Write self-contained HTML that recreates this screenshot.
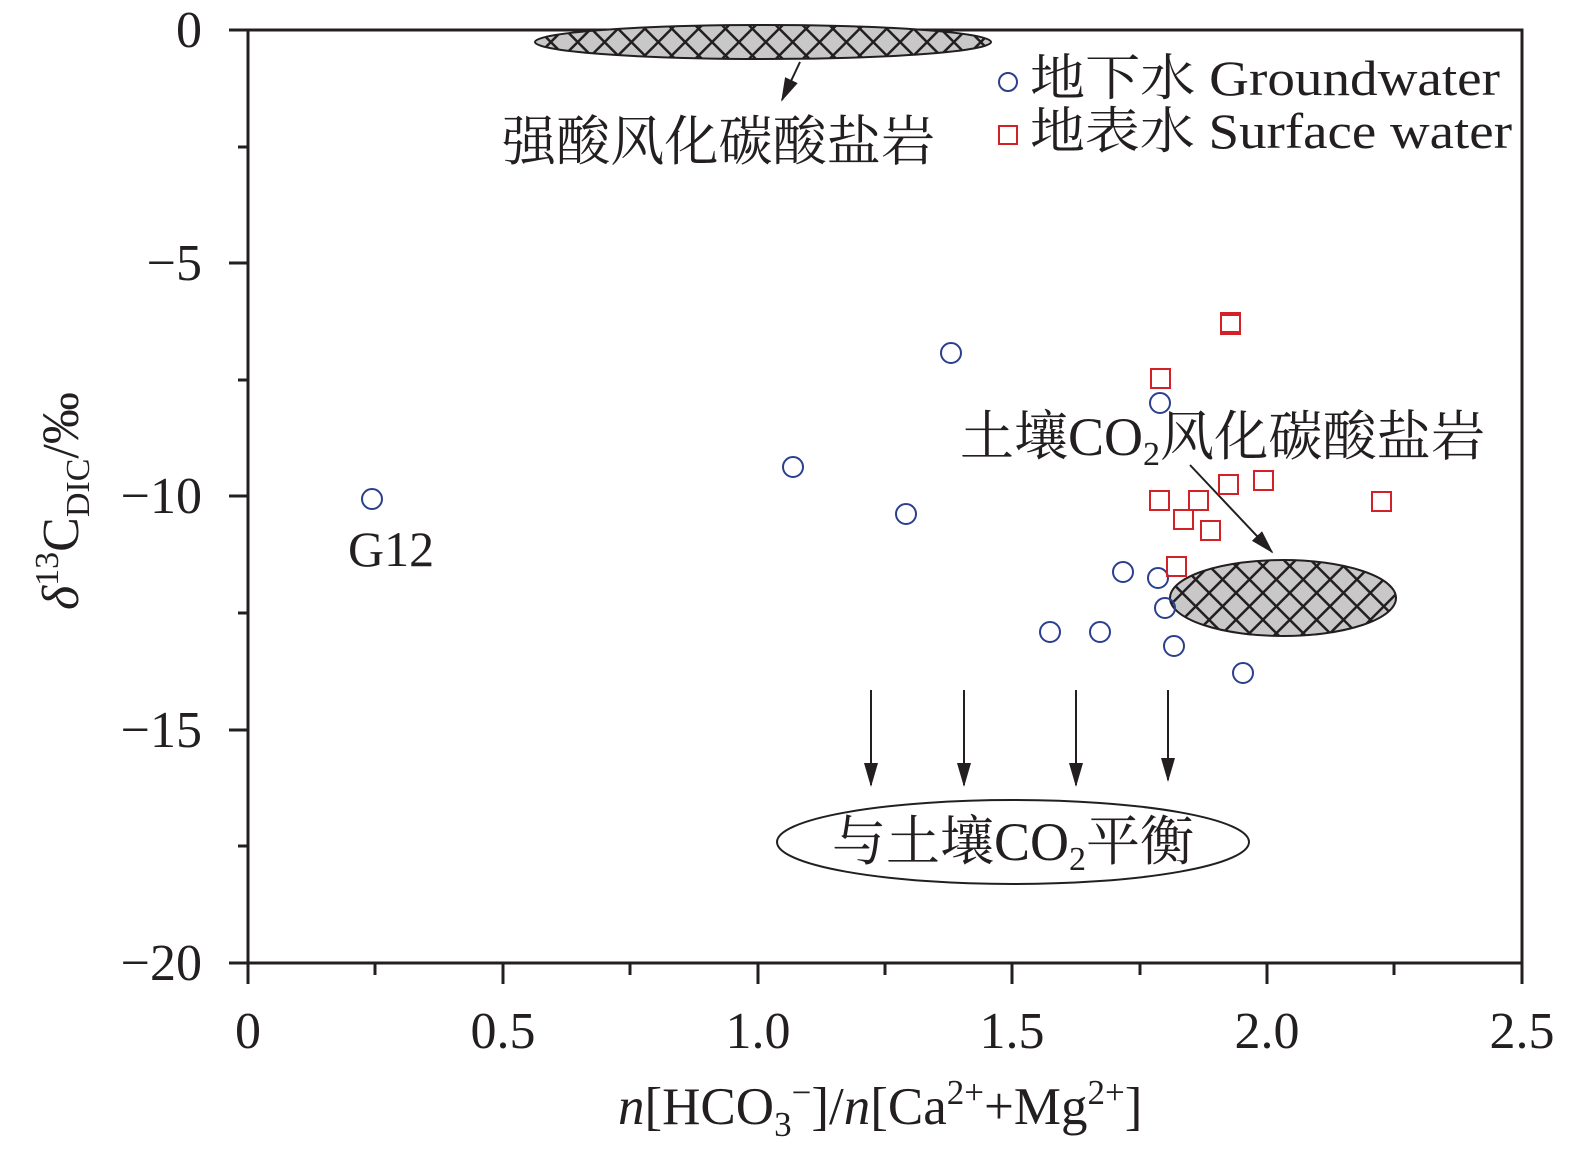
<!DOCTYPE html>
<html><head><meta charset="utf-8"><style>
html,body{margin:0;padding:0;background:#fff;}
svg{display:block;}
text{font-family:"Liberation Serif","Noto Serif CJK SC",serif;fill:#231f20;}
</style></head><body>
<svg width="1575" height="1155" viewBox="0 0 1575 1155" xmlns="http://www.w3.org/2000/svg">
<defs>
<pattern id="h" width="19" height="19" patternUnits="userSpaceOnUse" patternTransform="rotate(45)">
<rect width="19" height="19" fill="#c8c8c8"/>
<line x1="0" y1="0" x2="19" y2="0" stroke="#231f20" stroke-width="5"/>
<line x1="0" y1="0" x2="0" y2="19" stroke="#231f20" stroke-width="5"/>
</pattern>
<marker id="ar2" markerWidth="24" markerHeight="14" refX="22" refY="7" orient="auto" markerUnits="userSpaceOnUse">
<path d="M0,0 L24,7 L0,14 Z" fill="#231f20"/></marker>
</defs>
<rect x="248" y="30" width="1274" height="933" fill="none" stroke="#231f20" stroke-width="3"/>
<g stroke="#231f20" stroke-width="3">
<line x1="248" y1="963" x2="248" y2="984"/><line x1="503" y1="963" x2="503" y2="984"/>
<line x1="758" y1="963" x2="758" y2="984"/><line x1="1012" y1="963" x2="1012" y2="984"/>
<line x1="1267" y1="963" x2="1267" y2="984"/><line x1="1522" y1="963" x2="1522" y2="984"/>
<line x1="375" y1="963" x2="375" y2="975"/><line x1="630" y1="963" x2="630" y2="975"/>
<line x1="885" y1="963" x2="885" y2="975"/><line x1="1140" y1="963" x2="1140" y2="975"/>
<line x1="1394" y1="963" x2="1394" y2="975"/>
<line x1="229" y1="30" x2="248" y2="30"/><line x1="229" y1="263" x2="248" y2="263"/>
<line x1="229" y1="496" x2="248" y2="496"/><line x1="229" y1="730" x2="248" y2="730"/>
<line x1="229" y1="963" x2="248" y2="963"/>
<line x1="238" y1="147" x2="248" y2="147"/><line x1="238" y1="380" x2="248" y2="380"/>
<line x1="238" y1="613" x2="248" y2="613"/><line x1="238" y1="846" x2="248" y2="846"/>
</g>
<g font-size="52" text-anchor="middle">
<text x="248" y="1048">0</text><text x="503" y="1048">0.5</text><text x="758" y="1048">1.0</text>
<text x="1012" y="1048">1.5</text><text x="1267" y="1048">2.0</text><text x="1522" y="1048">2.5</text>
</g>
<g font-size="52" text-anchor="end">
<text x="202" y="47">0</text><text x="202" y="280">−5</text><text x="202" y="513">−10</text>
<text x="202" y="747">−15</text><text x="202" y="980">−20</text>
</g>
<text x="618" y="1124" font-size="53"><tspan font-style="italic">n</tspan>[HCO<tspan font-size="35" dy="12">3</tspan><tspan font-size="35" dy="-32">−</tspan><tspan dy="20">]/</tspan><tspan font-style="italic">n</tspan>[Ca<tspan font-size="35" dy="-20">2+</tspan><tspan dy="20">+Mg</tspan><tspan font-size="35" dy="-20">2+</tspan><tspan dy="20">]</tspan></text>
<text transform="translate(78,610) rotate(-90)" font-size="52"><tspan font-style="italic">δ</tspan><tspan font-size="34" dy="-20">13</tspan><tspan dy="20">C</tspan><tspan font-size="34" dy="11">DIC</tspan><tspan dy="-11">/‰</tspan></text>
<ellipse cx="763" cy="42" rx="228" ry="17" fill="url(#h)" stroke="#231f20" stroke-width="2"/>
<ellipse cx="1283" cy="598" rx="113" ry="38" fill="url(#h)" stroke="#231f20" stroke-width="2"/>
<ellipse cx="1013" cy="842" rx="236" ry="42" fill="#fff" stroke="#231f20" stroke-width="2"/>
<g stroke="#231f20" stroke-width="2">
<line x1="800" y1="62" x2="782" y2="100" marker-end="url(#ar2)"/>
<line x1="1190" y1="465" x2="1272" y2="552" marker-end="url(#ar2)"/>
<line x1="871" y1="690" x2="871" y2="785" marker-end="url(#ar2)"/>
<line x1="964" y1="690" x2="964" y2="785" marker-end="url(#ar2)"/>
<line x1="1076" y1="690" x2="1076" y2="785" marker-end="url(#ar2)"/>
<line x1="1168" y1="690" x2="1168" y2="780" marker-end="url(#ar2)"/>
</g>
<text x="502" y="160" font-size="54" textLength="433" lengthAdjust="spacingAndGlyphs">强酸风化碳酸盐岩</text>
<text x="960" y="455" font-size="54">土壤CO<tspan font-size="34" dy="10">2</tspan><tspan dy="-10" textLength="325" lengthAdjust="spacingAndGlyphs">风化碳酸盐岩</tspan></text>
<text x="832" y="860" font-size="54">与土壤CO<tspan font-size="34" dy="10">2</tspan><tspan dy="-10">平衡</tspan></text>
<text x="348" y="566" font-size="50">G12</text>
<text x="1030" y="95" font-size="50" textLength="470" lengthAdjust="spacingAndGlyphs">地下水 Groundwater</text>
<text x="1030" y="148" font-size="50" textLength="482" lengthAdjust="spacingAndGlyphs">地表水 Surface water</text>
<circle cx="1008" cy="82" r="9" fill="none" stroke="#2b3f8f" stroke-width="2"/>
<rect x="999" y="126" width="18" height="18" fill="none" stroke="#d42027" stroke-width="2"/>
<g fill="none" stroke="#2b3f8f" stroke-width="2">
<circle cx="372" cy="499" r="10"/><circle cx="793" cy="467" r="10"/><circle cx="906" cy="514" r="10"/>
<circle cx="951" cy="353" r="10"/><circle cx="1160" cy="403" r="10"/><circle cx="1123" cy="572" r="10"/>
<circle cx="1158" cy="578" r="10"/><circle cx="1165" cy="608" r="10"/><circle cx="1050" cy="632" r="10"/>
<circle cx="1100" cy="632" r="10"/><circle cx="1174" cy="646" r="10"/><circle cx="1243" cy="673" r="10"/>
</g>
<g fill="none" stroke="#d42027" stroke-width="2">
<rect x="1221" y="313" width="19" height="19"/><rect x="1221" y="315" width="19" height="19"/>
<rect x="1151" y="369" width="19" height="19"/><rect x="1150" y="491" width="19" height="19"/>
<rect x="1189" y="491" width="19" height="19"/><rect x="1219" y="475" width="19" height="19"/>
<rect x="1254" y="471" width="19" height="19"/><rect x="1174" y="510" width="19" height="19"/>
<rect x="1201" y="521" width="19" height="19"/><rect x="1167" y="557" width="19" height="19"/>
<rect x="1372" y="492" width="19" height="19"/>
</g>
</svg>
</body></html>
